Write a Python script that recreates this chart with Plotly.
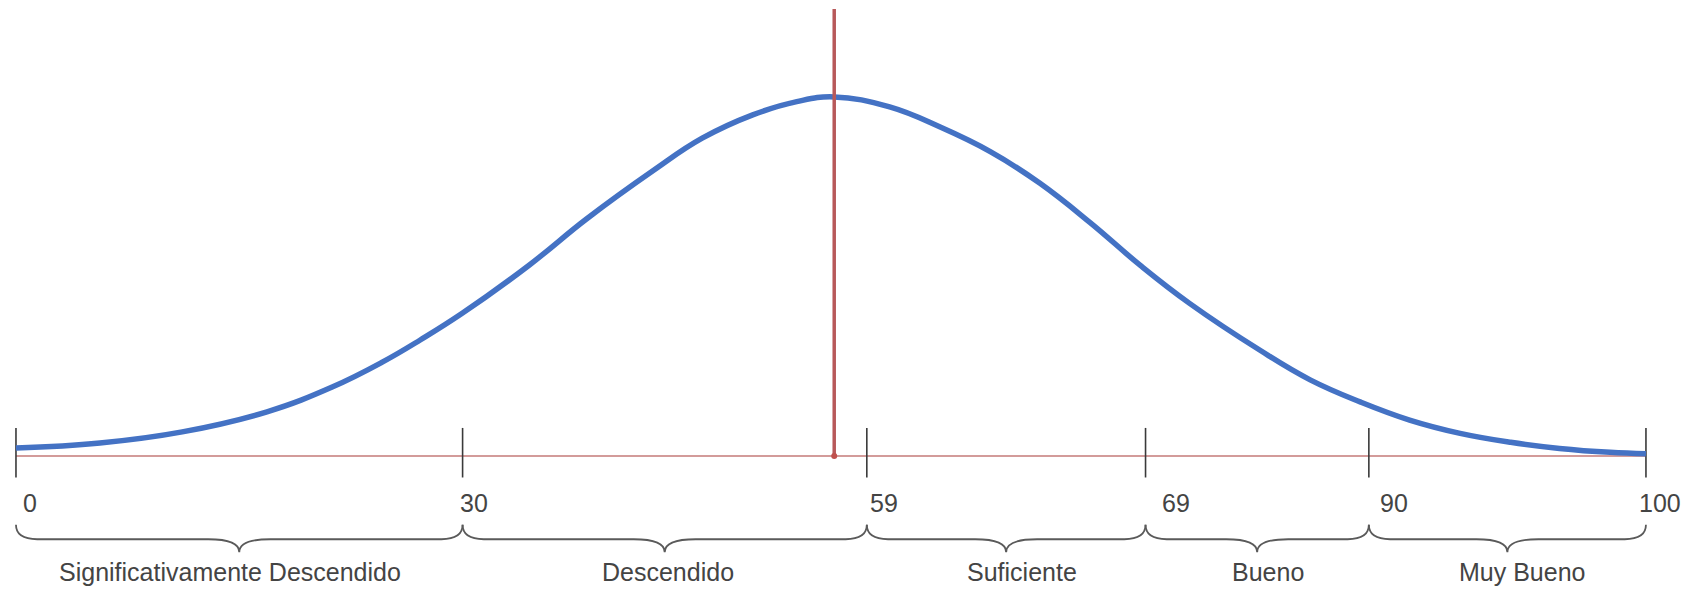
import plotly.graph_objects as go

# Bell curve traced along the scale (position 0-100 along the baseline, height relative to peak)
curve_pos = [0.0, 5.15, 10.2, 15.4, 19.4, 22.5, 24.8, 27.4, 31.5, 35.0, 39.1, 42.1, 45.2, 47.9,
             50.2, 53.6, 56.7, 59.8, 62.8, 65.9, 69.0, 72.0, 76.3, 79.4, 82.5, 85.5, 88.6,
             91.7, 94.7, 97.8, 100.0]
curve_height = [0.022, 0.036, 0.067, 0.123, 0.192, 0.262, 0.323, 0.398, 0.532, 0.660, 0.795,
                0.885, 0.950, 0.987, 1.0, 0.972, 0.916, 0.847, 0.760, 0.650, 0.530, 0.425,
                0.295, 0.212, 0.150, 0.100, 0.063, 0.038, 0.021, 0.010, 0.006]

# Score cut points and where they fall along the baseline
score_cuts = [0, 30, 59, 69, 90, 100]
cut_pos = [0.0, 27.4, 52.2, 69.3, 83.0, 100.0]

# Performance bands between consecutive cut points
band_names = ["Significativamente Descendido", "Descendido", "Suficiente", "Bueno", "Muy Bueno"]

FONT = "Liberation Sans, Arial, sans-serif"
FONT_SIZE = 25
TEXT_COLOR = "#444444"
BLUE = "#4472c4"
RED = "#b8595a"

# vertical layout (in curve-height units)
ref_top = 1.245
tick_top, tick_bottom = 0.078, -0.06
tick_label_y = -0.131
brace_top, brace_arm, brace_tip = -0.192, -0.232, -0.268
band_label_y = -0.323

# small horizontal nudges (px) for the text labels
score_label_shift = [5, -5, 1, 14, 9, -9]
band_label_shift = [-9, 3, 16, 11, 15]

fig = go.Figure()

# baseline
fig.add_trace(go.Scatter(x=[cut_pos[0], cut_pos[-1]], y=[0, 0], mode="lines",
                         line=dict(color="#c47a78", width=1.6), hoverinfo="skip"))

# tick marks at every cut point
tx, ty = [], []
for p in cut_pos:
    tx += [p, p, None]
    ty += [tick_top, tick_bottom, None]
fig.add_trace(go.Scatter(x=tx, y=ty, mode="lines",
                         line=dict(color="#3a3a3a", width=1.6), hoverinfo="skip"))

# bell curve
fig.add_trace(go.Scatter(x=curve_pos, y=curve_height, mode="lines",
                         line=dict(color=BLUE, width=5.5, shape="spline", smoothing=1.2),
                         hoverinfo="skip"))

# vertical line through the peak
peak_i = curve_height.index(max(curve_height))
peak_x = curve_pos[peak_i]
fig.add_trace(go.Scatter(x=[peak_x, peak_x], y=[0, ref_top], mode="lines",
                         line=dict(color=RED, width=3.5), hoverinfo="skip"))
fig.add_trace(go.Scatter(x=[peak_x], y=[0], mode="markers",
                         marker=dict(color="#c0504d", size=6), hoverinfo="skip"))

# curly braces under each band
r_end, r_mid = 1.3, 1.9
for a, b in zip(cut_pos[:-1], cut_pos[1:]):
    m = (a + b) / 2
    path = (f"M {a},{brace_top} Q {a},{brace_arm} {a + r_end},{brace_arm} "
            f"L {m - r_mid},{brace_arm} Q {m},{brace_arm} {m},{brace_tip} "
            f"Q {m},{brace_arm} {m + r_mid},{brace_arm} "
            f"L {b - r_end},{brace_arm} Q {b},{brace_arm} {b},{brace_top}")
    fig.add_shape(type="path", path=path, xref="x", yref="y",
                  line=dict(color="#5a5a5a", width=1.8))

# score labels next to the tick marks
for p, s, dx in zip(cut_pos, score_cuts, score_label_shift):
    fig.add_annotation(x=p, y=tick_label_y, text=str(s), showarrow=False,
                       xanchor="left", yanchor="middle", xshift=dx,
                       font=dict(family=FONT, size=FONT_SIZE, color=TEXT_COLOR))

# band names centred under the braces
for a, b, name, dx in zip(cut_pos[:-1], cut_pos[1:], band_names, band_label_shift):
    fig.add_annotation(x=(a + b) / 2, y=band_label_y, text=name, showarrow=False,
                       xanchor="center", yanchor="middle", xshift=dx,
                       font=dict(family=FONT, size=FONT_SIZE, color=TEXT_COLOR))

fig.update_layout(
    width=1688, height=592,
    margin=dict(l=0, r=0, t=0, b=0),
    paper_bgcolor="white", plot_bgcolor="white",
    showlegend=False,
    xaxis=dict(range=[-0.98, 102.58], visible=False, fixedrange=True),
    yaxis=dict(range=[-0.379, 1.270], visible=False, fixedrange=True),
)

fig.write_html("out.html")
